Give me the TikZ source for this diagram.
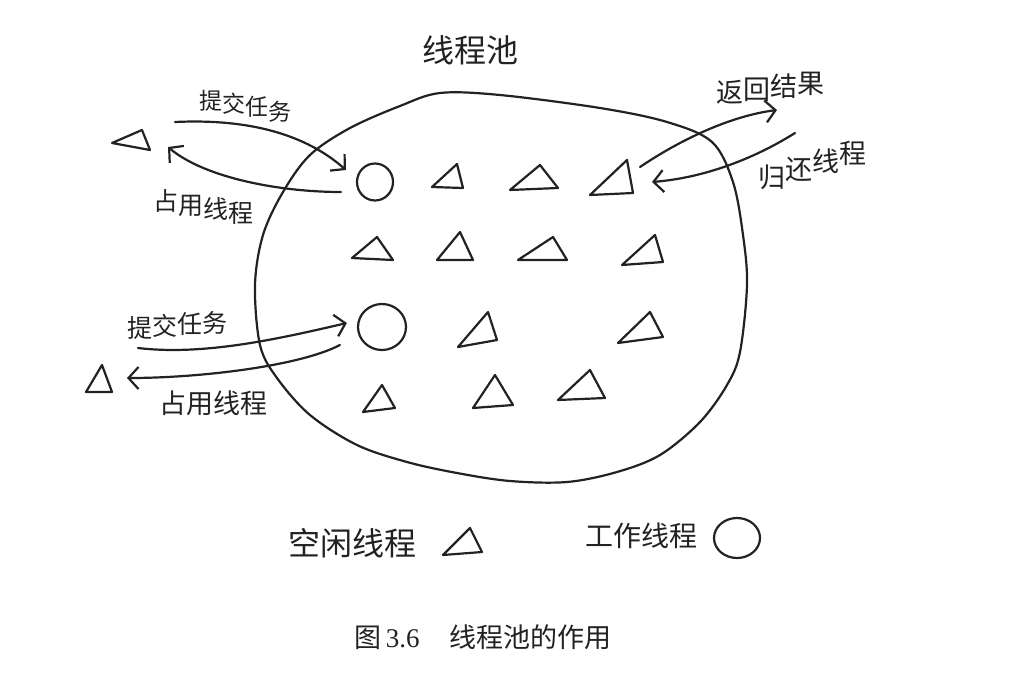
\documentclass[tikz,border=0pt]{standalone}
\usepackage{fontspec}
\setmainfont{Liberation Serif}
\newfontfamily\cjk{Noto Sans CJK SC}
\usetikzlibrary{arrows.meta,calc,shapes.geometric}
\definecolor{ink}{HTML}{222222}
\tikzset{
  pen/.style={draw=ink, line width=2.2pt, line cap=round, line join=round},
  conn/.style={pen, -{Straight Barb[length=10pt,width=22pt,line width=2.2pt]}},
  slot/.style={inner sep=0pt, minimum width=36pt, minimum height=26pt},
  work/.style={pen, ellipse, inner sep=0pt},
  hand/.style={text=ink, inner sep=0pt, font=\cjk},
}
\newcommand\idlethread[5]{%
  \node[slot] (#1) at (#2) {};
  \draw[pen] ($(#1)+(#3)$) -- ($(#1)+(#4)$) -- ($(#1)+(#5)$) -- cycle;}
\begin{document}
\begin{tikzpicture}[x={(1pt,0pt)}, y={(0pt,-1pt)}]
\useasboundingbox (0,0) rectangle (1036,680);
\fill[white] (0,0) rectangle (1036,680);

% pool boundary
\draw[pen] plot[smooth cycle, tension=0.55] coordinates {
 (440,93) (500,95) (600,108) (667,122) (712,142) (733,182) (743,235)
 (747,285) (740,352) (727,385) (700,422) (660,455) (617,472) (567,482)
 (510,481) (457,473) (407,462) (357,445) (310,415) (277,378) (260,345)
 (255,285) (263,235) (283,192) (310,155) (350,128) (400,106)};

\node[hand, font=\cjk\fontsize{32}{32}\selectfont] (title) at (470,50) {线程池};

% working threads
\node[work, minimum width=36pt, minimum height=37pt] (c1) at (375,182) {};
\node[work, minimum width=48pt, minimum height=46pt] (c2) at (382,327) {};

% idle threads inside the pool
\idlethread{t1}{448,178}{-16,9}{9,-14}{15,10}
\idlethread{t2}{535,180}{-25,10}{5,-15}{23,8}
\idlethread{t3}{612,180}{-22,15}{15,-20}{21,13}
\idlethread{t4}{373,250}{-21,8}{4,-13}{20,10}
\idlethread{t5}{455,248}{-18,12}{5,-16}{18,12}
\idlethread{t6}{543,252}{-25,8}{10,-15}{24,8}
\idlethread{t7}{642,252}{-20,13}{13,-17}{21,10}
\idlethread{t8}{478,332}{-20,15}{10,-20}{19,8}
\idlethread{t9}{642,328}{-24,15}{8,-16}{21,9}
\idlethread{t10}{380,400}{-17,12}{2,-15}{15,8}
\idlethread{t11}{492,393}{-19,15}{3,-18}{21,12}
\idlethread{t12}{582,387}{-24,13}{8,-17}{23,11}

% idle threads outside
\idlethread{t0}{132,142}{-20,1}{10,-12}{18,8}
\idlethread{t13}{98,380}{-12,12}{4,-15}{14,12}

% free ends on the right
\coordinate (resend) at (777,110);
\coordinate (retstart) at (795,133);

% connectors
\draw[conn] ($(t0)+(43,-20)$) .. controls (260,118) and (312,140) .. ($(c1.west)+(-10,-12)$);
\draw[conn] ($(c1.west)+(-15,10)$) .. controls (280,192) and (205,178) .. ($(t0)+(36,5)$);
\draw[conn] ($(t3)+(28,-13)$) .. controls (680,140) and (730,116) .. (resend);
\draw[conn] (retstart) .. controls (752,160) and (702,178) .. ($(t3)+(40,2)$);
\draw[conn] ($(t13)+(40,-32)$) .. controls (205,356) and (282,338) .. ($(c2.west)+(-10,-4)$);
\draw[conn] ($(c2.west)+(-17,18)$) .. controls (300,366) and (200,378) .. ($(t13)+(29,-2)$);

% labels
\node[hand, font=\cjk\fontsize{23}{23}\selectfont] (l1) at (245,106)
  {提\raisebox{-3pt}{交}\raisebox{-6pt}{任}\raisebox{-11pt}{务}};
\node[hand, font=\cjk\fontsize{25}{25}\selectfont] (l2) at (203,207)
  {占\raisebox{-4pt}{用}\raisebox{-8pt}{线}\raisebox{-12pt}{程}};
\node[hand, font=\cjk\fontsize{27}{27}\selectfont] (l3) at (770,88)
  {返\raisebox{3pt}{回}\raisebox{6pt}{结}\raisebox{9pt}{果}};
\node[hand, font=\cjk\fontsize{27}{27}\selectfont] (l4) at (812,165)
  {归\raisebox{8pt}{还}\raisebox{16pt}{线}\raisebox{24pt}{程}};
\node[hand, font=\cjk\fontsize{25}{25}\selectfont] (l5) at (177,325)
  {提\raisebox{2pt}{交}\raisebox{4pt}{任}\raisebox{5pt}{务}};
\node[hand, font=\cjk\fontsize{27}{27}\selectfont] (l6) at (213,403) {占用线程};

% legend
\node[hand, font=\cjk\fontsize{32}{32}\selectfont] (lg1) at (352,543) {空闲线程};
\idlethread{tl}{463,545}{-20,10}{7,-17}{19,7}
\node[hand, font=\cjk\fontsize{28}{28}\selectfont] (lg2) at (641,536) {工作线程};
\node[work, minimum width=46pt, minimum height=40pt] (cl) at (737,538) {};

% caption
\node[text=ink, inner sep=0pt, font=\fontsize{27}{27}\selectfont] (cap) at (483,637)
  {{\cjk 图}\,3.6\hspace{30pt}{\cjk 线程池的作用}};
\end{tikzpicture}
\end{document}
